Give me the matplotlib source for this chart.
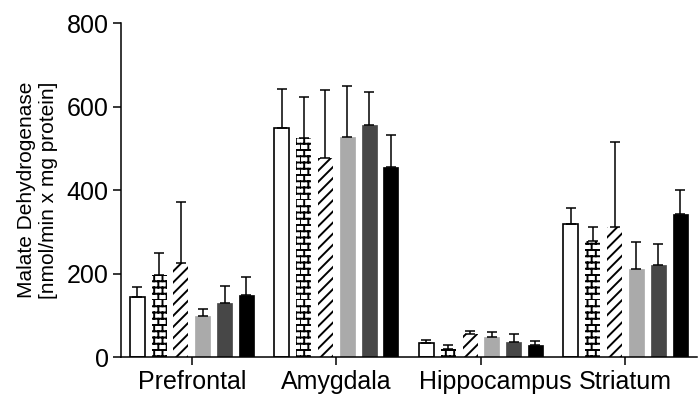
import warnings
import numpy as np
import matplotlib
matplotlib.use("Agg")
import matplotlib.pyplot as plt
import matplotlib.hatch as mhatch
import matplotlib.transforms as mtransforms
from matplotlib.path import Path

warnings.filterwarnings("ignore")

# Enzyme activity per brain region, six groups per region
regions = ["Prefrontal", "Amygdala", "Hippocampus", "Striatum"]
means = [
    [144, 196, 226, 98, 129, 148],
    [548, 525, 476, 526, 556, 454],
    [33, 19, 55, 48, 36, 29],
    [318, 278, 311, 210, 220, 343],
]
upper = [
    [168, 248, 371, 115, 169, 192],
    [642, 622, 640, 650, 634, 531],
    [41, 28, 62, 61, 54, 39],
    [356, 312, 514, 275, 271, 400],
]


class BrickHatch(mhatch.HatchPatternBase):
    """Brick wall pattern, selected with the 'b' hatch character."""
    rows = 16
    cols = 12

    def __init__(self, hatch, density):
        n = hatch.count("b")
        self.num_vertices = (self.rows + self.rows * self.cols) * 2 if n else 0

    def set_vertices_and_codes(self, vertices, codes):
        verts = []
        for i in range(self.rows):
            y0 = i / self.rows
            y1 = (i + 1) / self.rows
            verts += [(0.0, y0), (1.0, y0)]
            shift = 0.5 * (i % 2)
            for j in range(self.cols):
                x = (j + shift) / self.cols
                verts += [(x, y0), (x, y1)]
        vertices[:] = np.array(verts)
        codes[0::2] = Path.MOVETO
        codes[1::2] = Path.LINETO


mhatch._hatch_types.append(BrickHatch)

plt.rcParams["font.family"] = ["Liberation Sans", "DejaVu Sans"]
plt.rcParams["hatch.linewidth"] = 1.4

styles = [
    dict(facecolor="white", edgecolor="black", linewidth=1.2),
    dict(facecolor="white", edgecolor="black", linewidth=0, hatch="b"),
    dict(facecolor="white", edgecolor="black", linewidth=0, hatch="///"),
    dict(facecolor="#aaaaaa", edgecolor="#aaaaaa", linewidth=0.5),
    dict(facecolor="#474747", edgecolor="#474747", linewidth=0.5),
    dict(facecolor="black", edgecolor="black", linewidth=0.5),
]

means = np.array(means)
upper = np.array(upper)
x = np.arange(len(regions))
pitch = 0.151
width = 0.104

fig = plt.figure(figsize=(6.98, 4.01), dpi=100)
ax = fig.add_axes([0.1734, 0.1097, 0.8252, 0.8329])

for k in range(means.shape[1]):
    pos = x + (k - 2.5) * pitch
    ax.bar(pos, means[:, k], width=width, zorder=2, **styles[k])
    err = upper[:, k] - means[:, k]
    ax.errorbar(pos, means[:, k], yerr=[np.zeros_like(err), err], fmt="none",
                ecolor="black", elinewidth=1.1, capsize=3.6, capthick=1.1,
                zorder=3)

ax.set_xlim(-0.49, 3.495)
ax.set_ylim(0, 800)
ax.set_yticks([0, 200, 400, 600, 800])
ax.set_xticks(x)
ax.set_xticklabels(regions)
ax.set_ylabel("Malate Dehydrogenase\n[nmol/min x mg protein]", fontsize=15,
              labelpad=6, linespacing=1.2)

for side in ["top", "right"]:
    ax.spines[side].set_visible(False)
for side in ["left", "bottom"]:
    ax.spines[side].set_linewidth(1.1)
ax.tick_params(axis="both", direction="out", length=6, width=1.1,
               labelsize=18, pad=3)

# nudge the long "Hippocampus" label right so it clears "Amygdala"
hip = ax.get_xticklabels()[2]
hip.set_transform(hip.get_transform()
                  + mtransforms.ScaledTranslation(0.14, 0, fig.dpi_scale_trans))

fig.savefig("out.png", dpi=100)
